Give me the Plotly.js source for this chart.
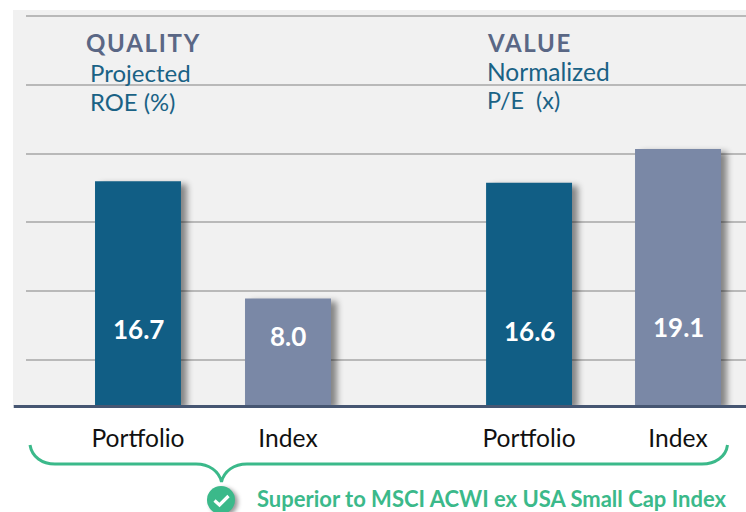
<!DOCTYPE html>
<html><head><meta charset="utf-8">
<script src="https://cdn.plot.ly/plotly-3.0.1.min.js"></script>
<style>
html,body{margin:0;padding:0;background:#fff;overflow:hidden}
#c{width:746px;height:512px}
.annotation-text[data-unformatted="<b>QUALITY</b>"],.annotation-text[data-unformatted="<b>VALUE</b>"]{letter-spacing:1.7px}
.bars .point path{filter:drop-shadow(6px 3px 3px rgba(0,0,0,.45))}
</style></head><body><div id="c"></div>
<script>
const categories=["Portfolio","Index","Portfolio","Index"];
const xPositions=[0,1,2.607,3.6];
const values=[16.7,8.0,16.6,19.1];
const barColors=["#115e85","#7a88a6","#115e85","#7a88a6"];
const valueLabels=["16.7","8.0","16.6","19.1"];
const labelHeights=[5.7,5.2,5.6,5.9];
const gridValues=[3.42,8.55,13.68,18.74,23.87,29.0];

const W=746,H=512,L=13,T=10,B=106;
const pw=W-L,ph=H-T-B;
const px=x=>(x-L)/pw, py=y=>(H-B-y)/ph;
const P=(x,y)=>px(x).toFixed(5)+","+py(y).toFixed(5);
const green="#3bb98a";

const shapes=[];
gridValues.forEach(v=>shapes.push({type:"line",layer:"below",xref:"paper",yref:"y",x0:px(26),x1:1,y0:v,y1:v,line:{color:"#b9b9b9",width:2}}));
shapes.push({type:"line",xref:"paper",yref:"paper",x0:0.001,x1:1,y0:py(406.5),y1:py(406.5),line:{color:"#465672",width:3}});
shapes.push({type:"path",xref:"paper",yref:"paper",line:{color:green,width:3},fillcolor:"rgba(0,0,0,0)",
 path:"M"+P(30,445)+"C"+P(32,457)+" "+P(42,464)+" "+P(55,464)+"L"+P(196,464)+"C"+P(209,464)+" "+P(219,471)+" "+P(221.5,482)+"C"+P(224,471)+" "+P(234,464)+" "+P(247,464)+"L"+P(702,464)+"C"+P(715,464)+" "+P(726,457)+" "+P(727.500,445)});
shapes.push({type:"circle",xref:"paper",yref:"paper",x0:px(207),x1:px(235),y0:py(486),y1:py(514),fillcolor:green,line:{width:0}});
shapes.push({type:"path",xref:"paper",yref:"paper",fillcolor:"rgba(0,0,0,0)",line:{color:"#fff",width:3.2},
 path:"M"+P(214.5,500.5)+"L"+P(219.5,505)+"L"+P(228.5,496)});

const ann=[];
valueLabels.forEach((t,i)=>ann.push({x:xPositions[i],y:labelHeights[i],xref:"x",yref:"y",text:"<b>"+t+"</b>",showarrow:false,font:{family:"Lato",size:26,color:"#fff"}}));
const tx=(text,x,y,size,color)=>ann.push({xref:"paper",yref:"paper",x:px(x),y:py(y),xanchor:"left",yanchor:"middle",text,showarrow:false,align:"left",font:{family:"Lato",size,color}});
tx("<b>QUALITY</b>",84,42.5,24,"#5a6785");
tx("Projected",88,73,24,"#1a6285");
tx("ROE (%)",88,101.5,23.8,"#1a6285");
tx("<b>VALUE</b>",485,42.5,24,"#5a6785");
tx("Normalized",485,71,24.5,"#1a6285");
tx("P/E  (x)",485,100,23.4,"#1a6285");
tx("<b>Superior to MSCI ACWI ex USA Small Cap Index</b>",255,498,22,green);

Plotly.newPlot("c",[{type:"bar",x:xPositions,y:values,width:0.573,marker:{color:barColors,line:{width:0}},hoverinfo:"skip"}],{
 width:W,height:H,showlegend:false,
 margin:{l:L,r:0,t:T,b:B,pad:0},
 paper_bgcolor:"#fff",plot_bgcolor:"#f1f1f1",
 font:{family:"Lato"},
 xaxis:{range:[-0.8333,4.0533],tickmode:"array",tickvals:xPositions,ticktext:categories,showgrid:false,zeroline:false,showline:false,ticks:"outside",ticklen:10,tickcolor:"rgba(0,0,0,0)",tickfont:{family:"Lato",size:24.6,color:"#111"}},
 yaxis:{range:[0,29.44],showgrid:false,zeroline:false,showticklabels:false,ticks:""},
 shapes,annotations:ann
},{displayModeBar:false,staticPlot:true}).then(()=>{
 document.querySelectorAll(".shapelayer path").forEach(p=>{
  if(p.style.fill&&p.style.fill.replace(/\s/g,"")==="rgb(59,185,138)")p.style.filter="drop-shadow(3px 2px 2px rgba(0,0,0,.4))";
 });
});
</script></body></html>
